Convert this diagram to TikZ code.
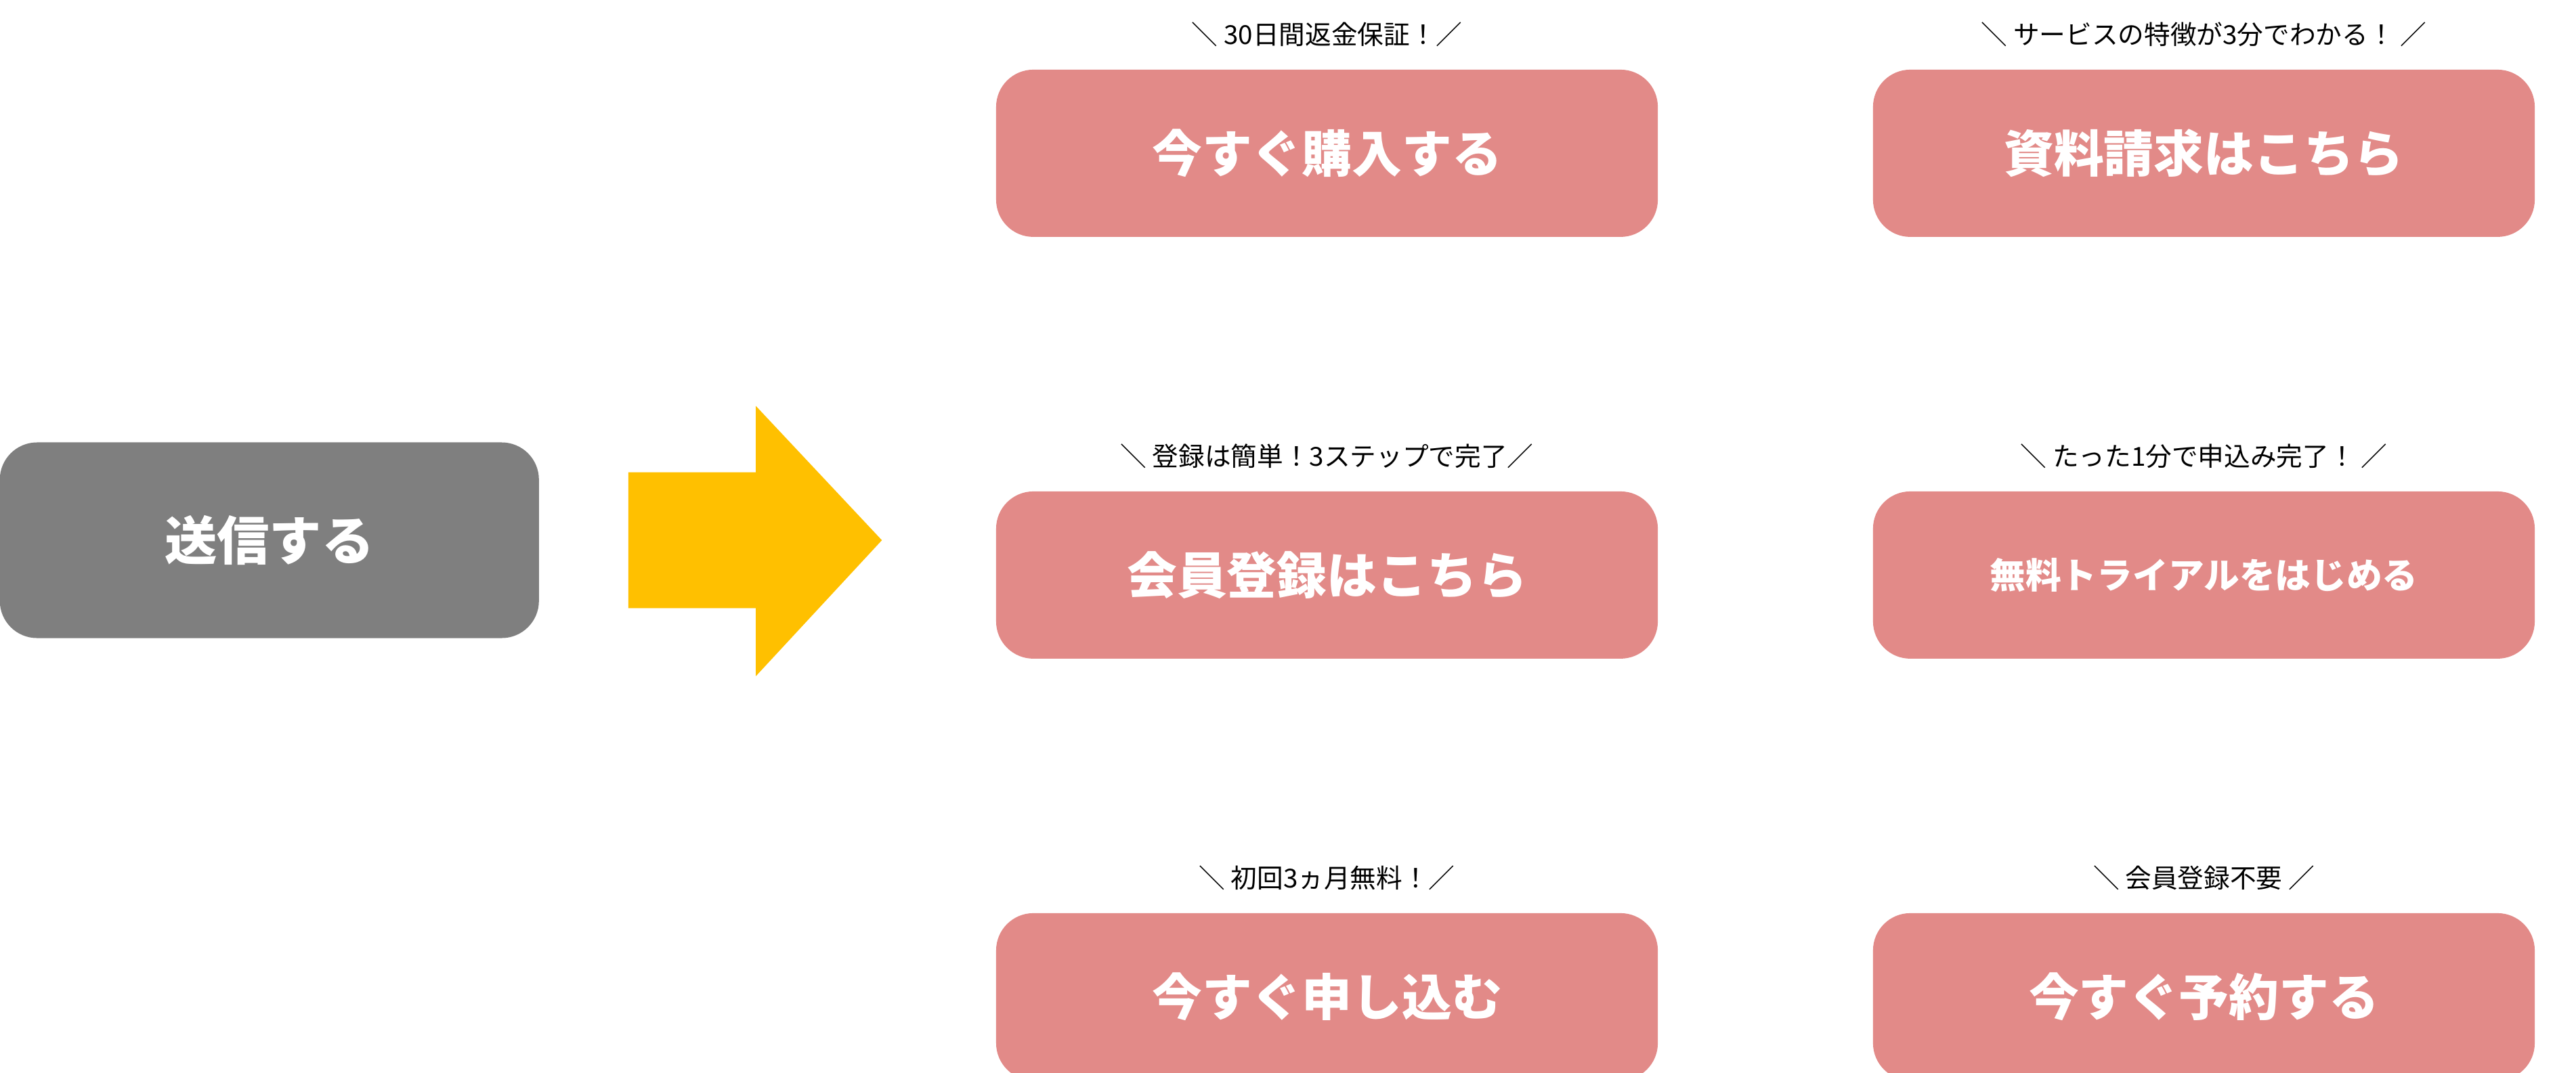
\documentclass[tikz,border=0pt]{standalone}
\usepackage{fontspec}
\newfontfamily\cjk{Noto Sans CJK JP}
\usetikzlibrary{positioning}
\definecolor{btnpink}{HTML}{E28A88}
\definecolor{btngray}{HTML}{7F7F7F}
\definecolor{arrowyellow}{HTML}{FFC000}
\tikzset{
  btn/.style={fill=btnpink, rounded corners=0.55cm, minimum width=9.77cm, minimum height=2.47cm,
    text=white, font=\cjk\bfseries\fontsize{21}{25}\selectfont, inner sep=0pt},
  note/.style={font=\cjk\fontsize{11}{13}\selectfont, inner sep=0pt, above=0.33cm}
}
\begin{document}
\begin{tikzpicture}[x=0.02448cm, y=-0.02448cm]
\useasboundingbox (0,0) rectangle (1554,647.5);
% send button
\node [fill=btngray, rounded corners=0.55cm, minimum width=7.96cm, minimum height=2.89cm,
  text=white, font=\cjk\bfseries\fontsize{22}{26}\selectfont, inner sep=0pt] (send) at (162.5,326) {送信する};
% arrow
\fill [arrowyellow] (379,285) -- (456,285) -- (456,245) -- (532,326) -- (456,408) -- (456,367) -- (379,367) -- cycle;
% buttons
\node [btn] (buy) at (800.5,92.5) {今すぐ購入する};
\node [btn] (doc) at (1329.5,92.5) {資料請求はこちら};
\node [btn] (member) at (800.5,347) {会員登録はこちら};
\node [btn, font=\cjk\bfseries\fontsize{15}{18}\selectfont] (trial) at (1329.5,347) {無料トライアルをはじめる};
\node [btn] (apply) at (800.5,601.5) {今すぐ申し込む};
\node [btn] (reserve) at (1329.5,601.5) {今すぐ予約する};
% notes
\node [note] (nbuy) at (buy.north) {＼ 30日間返金保証！／};
\node [note] (ndoc) at (doc.north) {＼ サービスの特徴が3分でわかる！ ／};
\node [note] (nmember) at (member.north) {＼ 登録は簡単！3ステップで完了／};
\node [note] (ntrial) at (trial.north) {＼ たった1分で申込み完了！ ／};
\node [note] (napply) at (apply.north) {＼ 初回3ヵ月無料！／};
\node [note] (nreserve) at (reserve.north) {＼ 会員登録不要 ／};
\end{tikzpicture}
\end{document}
